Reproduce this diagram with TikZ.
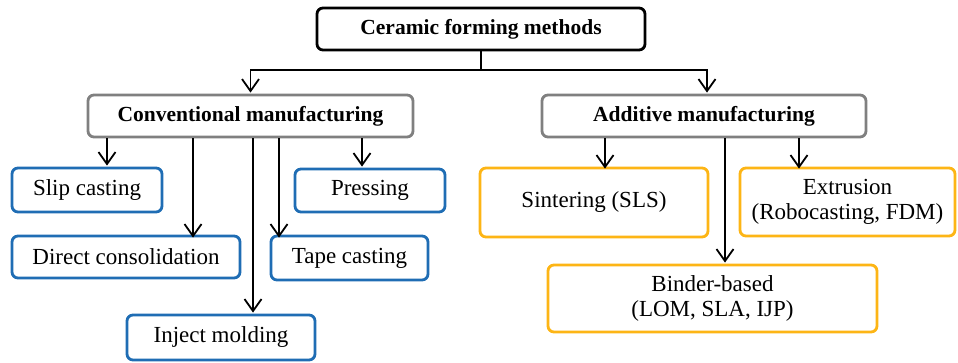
\documentclass[tikz,border=0pt]{standalone}
\usepackage{fontspec}
\setmainfont{Liberation Serif}
\usetikzlibrary{arrows.meta}

\definecolor{boxblue}{HTML}{1F6DB4}
\definecolor{boxgold}{HTML}{FDB515}
\definecolor{boxgray}{HTML}{808080}

\tikzset{
  box/.style={draw, line width=2.8pt, rounded corners=6pt, fill=white,
    align=center, inner sep=0pt, font=\rmfamily\fontsize{23}{25}\selectfont},
  rootbox/.style={box, draw=black, font=\rmfamily\bfseries\fontsize{21.5}{24}\selectfont},
  groupbox/.style={box, draw=boxgray, font=\rmfamily\bfseries\fontsize{21.5}{24}\selectfont},
  convbox/.style={box, draw=boxblue},
  addbox/.style={box, draw=boxgold},
  link/.style={line width=1.8pt, black},
  arr/.style={link, -{Straight Barb[length=12pt,width=17pt,line width=1.8pt]}, shorten >=1pt}
}

\begin{document}
\begin{tikzpicture}[x=1pt, y=-1pt]
  \useasboundingbox (0,0) rectangle (958,363);

  % root and the two families
  \node[rootbox, minimum width=328pt, minimum height=42pt] (top) at (481,29) {Ceramic forming methods};
  \node[groupbox, minimum width=325pt, minimum height=42pt] (conv) at (250.5,116) {Conventional manufacturing};
  \node[groupbox, minimum width=324pt, minimum height=42pt] (add) at (704,116) {Additive manufacturing};

  % conventional methods
  \node[convbox, minimum width=150pt, minimum height=44pt] (slip) at (87,190) {Slip casting};
  \node[convbox, minimum width=228pt, minimum height=42pt] (direct) at (126,257) {Direct consolidation};
  \node[convbox, minimum width=188pt, minimum height=45pt] (inject) at (221,337.5) {Inject molding};
  \node[convbox, minimum width=157pt, minimum height=44pt] (tape) at (349.5,258) {Tape casting};
  \node[convbox, minimum width=150pt, minimum height=43pt] (press) at (370,190.5) {Pressing};

  % additive methods
  \node[addbox, minimum width=228pt, minimum height=69pt] (sinter) at (594,202.5) {Sintering (SLS)};
  \node[addbox, minimum width=215pt, minimum height=68pt] (extr) at (847.5,202) {Extrusion\\(Robocasting, FDM)};
  \node[addbox, minimum width=329pt, minimum height=67pt] (binder) at (712.5,298.5) {Binder-based\\(LOM, SLA, IJP)};

  % split from the root
  \coordinate (split) at (481,70);
  \draw[link] (top.south) -- (split);
  \draw[arr] (split) -| (conv.north);
  \draw[arr] (split) -| ([xshift=3pt]add.north);

  % conventional branches
  \draw[arr] ([xshift=-143.5pt]conv.south) -- ([xshift=20pt]slip.north);
  \draw[arr] ([xshift=-57.5pt]conv.south) -- ([xshift=67pt,yshift=-4pt]direct.north);
  \draw[arr] ([xshift=2.5pt]conv.south) -- ([xshift=32pt]inject.north);
  \draw[arr] ([xshift=28.5pt]conv.south) -- ([xshift=-70.5pt,yshift=-4pt]tape.north);
  \draw[arr] ([xshift=111.5pt]conv.south) -- ([xshift=-8pt]press.north);

  % additive branches
  \draw[arr] ([xshift=-99pt]add.south) -- ([xshift=11pt,yshift=-3pt]sinter.north);
  \draw[arr] ([xshift=95pt]add.south) -- ([xshift=-48.5pt,yshift=-3pt]extr.north);
  \draw[arr] ([xshift=21pt]add.south) -- ([xshift=12.5pt]binder.north);
\end{tikzpicture}
\end{document}
